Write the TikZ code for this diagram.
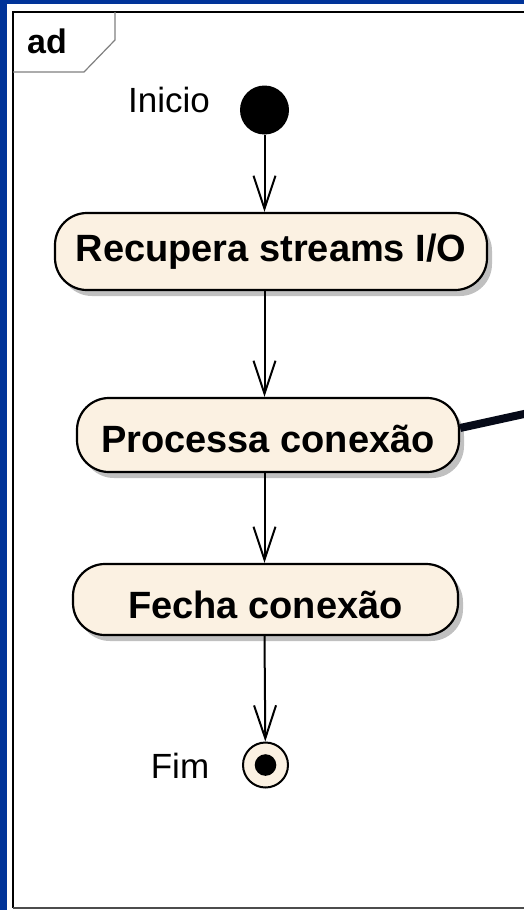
\documentclass[tikz,border=0pt]{standalone}
\usepackage{fontspec}
\setmainfont{Liberation Sans}
\usetikzlibrary{arrows.meta,shadows,calc}

\definecolor{framebl}{RGB}{0,51,153}
\definecolor{actfill}{RGB}{251,241,226}
\definecolor{shadowgr}{RGB}{192,192,192}
\definecolor{flowink}{RGB}{6,10,24}

\begin{document}
\begin{tikzpicture}[x=1pt,y=-1pt,
  activity/.style={draw=black, line width=2.2pt, fill=actfill,
    rounded corners=32pt, inner sep=0pt,
    font=\fontsize{38}{40}\selectfont\bfseries,
    text height=27pt, text depth=0pt,
    general shadow={fill=shadowgr, shadow xshift=5pt, shadow yshift=-6pt}},
  flow/.style={line width=2pt, -{Straight Barb[length=33pt,width=22pt]}},
  lbl/.style={font=\fontsize{35}{36}\selectfont, anchor=base, inner sep=0pt}]

\useasboundingbox (0,0) rectangle (524,910);

% window border and diagram frame
\fill[framebl] (0,0) rectangle (524,910);
\fill[white] (7,4) rectangle (524,910);
\draw[line width=1.6pt] (13,908) -- (13,12) -- (530,12);
\draw[gray!60!black, line width=2pt] (13,908) -- (530,908);
\draw[gray, line width=1.2pt] (13,72) -- (84,72) -- (115,40) -- (115,12);
\node[font=\fontsize{34}{36}\selectfont\bfseries, anchor=base, inner sep=0pt] (tag) at (47,53) {ad};

% initial and final nodes
\node[circle, fill=black, minimum size=49pt, inner sep=0pt] (init) at (264.5,110) {};
\node[lbl] (startlbl) at (169,112) {Inicio};
\node[circle, draw=black, line width=2pt, fill=actfill, minimum size=45pt, inner sep=0pt] (fin) at (265.5,765) {};
\node[circle, fill=black, minimum size=21.6pt, inner sep=0pt] (findot) at (fin) {};
\node[lbl] (endlbl) at (180,778) {Fim};

% actions
\node[activity, minimum width=432pt, minimum height=77pt] (rec) at (271,251.5)
  {\raisebox{4pt}{Recupera streams I/O}};
\node[activity, minimum width=382pt, minimum height=74pt] (proc) at (268,435)
  {\raisebox{-3.5pt}{Processa conexão}};
\node[activity, minimum width=385pt, minimum height=71pt] (close) at (265.5,599.5)
  {\raisebox{-5.5pt}{Fecha conexão}};

% control flow
\draw[flow] (init.south) -- (rec.north -| init);
\draw[flow] (rec.south -| init) -- (proc.north -| init);
\draw[flow] (proc.south -| init) -- (close.north -| init);
\draw[flow] (close.south -| init) -- (fin);

% outgoing flow leaving the frame
\coordinate (offright) at (530,412.7);
\draw[flowink, line width=8pt] ([yshift=7pt]proc.east) -- (offright);

\end{tikzpicture}
\end{document}
